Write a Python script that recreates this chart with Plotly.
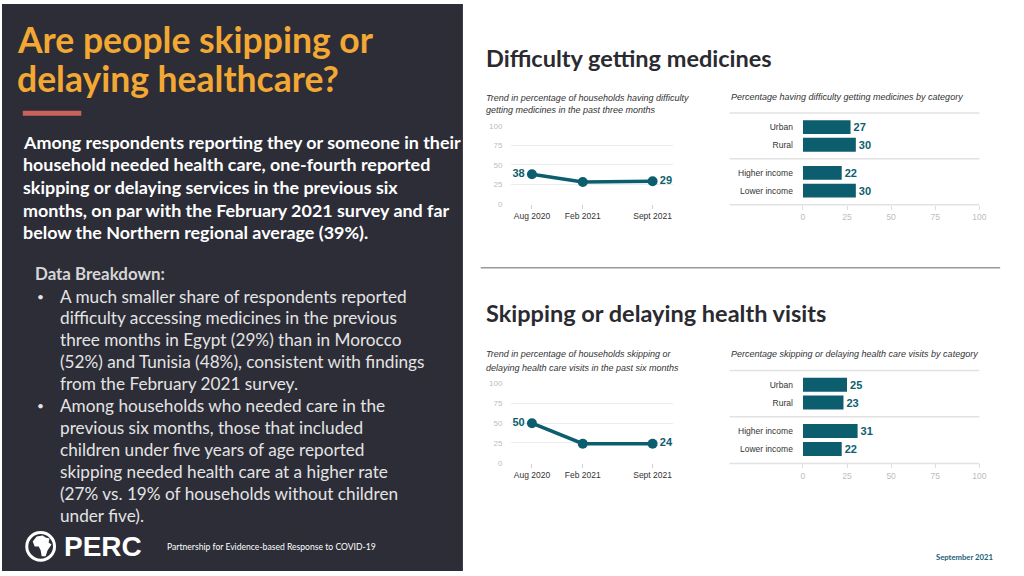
import plotly.graph_objects as go
import pandas as pd

# ---------------- data ----------------
periods = ["Aug 2020", "Feb 2021", "Sept 2021"]
period_dates = ["2020-08-20", "2021-02-05", "2021-09-25"]
med_trend = [38, 28, 29]
visit_trend = [50, 24, 24]

area_cats = ["Urban", "Rural"]
income_cats = ["Higher income", "Lower income"]
med_area = [27, 30]
med_income = [22, 30]
visit_area = [25, 23]
visit_income = [31, 22]

pct_ticks = [0, 25, 50, 75, 100]

# ---------------- styles ----------------
W, H = 1024, 576
TEAL = "#0c5e6e"
DARK = "#2c2d37"
ORANGE = "#f2a833"
SLIDE_FONT = "Lato"
CHART_FONT = "Liberation Sans"


def px(x, y):
    return x / W, 1 - y / H


def xd(a, b):
    return [a / W, b / W]


def yd(top, bottom):
    return [1 - bottom / H, 1 - top / H]


fig = go.Figure()

# ---------- line charts ----------
def add_line(vals, xa, ya):
    txt = [str(v) if i in (0, len(vals) - 1) else "" for i, v in enumerate(vals)]
    pos = ["middle left"] + ["middle center"] * (len(vals) - 2) + ["middle right"]
    fig.add_trace(go.Scatter(
        x=pd.to_datetime(period_dates), y=vals, mode="lines+markers+text",
        text=txt, textposition=pos,
        textfont=dict(family=CHART_FONT, size=11, color=TEAL, weight="bold"),
        line=dict(color=TEAL, width=3.5), marker=dict(size=10, color=TEAL),
        cliponaxis=False, xaxis=xa, yaxis=ya, showlegend=False, hoverinfo="skip"))


add_line(med_trend, "x", "y")
add_line(visit_trend, "x2", "y2")

# ---------- bar charts ----------
def add_bar(cats, vals, xa, ya):
    fig.add_trace(go.Bar(
        y=cats, x=vals, orientation="h", marker=dict(color=TEAL, line=dict(width=0)),
        text=[str(v) for v in vals], textposition="outside",
        textfont=dict(family=CHART_FONT, size=11, color=TEAL, weight="bold"),
        cliponaxis=False, xaxis=xa, yaxis=ya, showlegend=False, hoverinfo="skip"))


add_bar(area_cats, med_area, "x3", "y3")
add_bar(income_cats, med_income, "x4", "y4")
add_bar(area_cats, visit_area, "x5", "y5")
add_bar(income_cats, visit_income, "x6", "y6")

dates = pd.to_datetime(period_dates)
pad = pd.Timedelta(days=68)
xrange_dates = [dates.min() - pad, dates.max() + pad]

line_x = dict(type="date", range=xrange_dates, domain=xd(514, 677),
              tickmode="array", tickvals=dates, ticktext=periods,
              showgrid=False, zeroline=False, showline=False,
              ticks="outside", ticklen=4, tickcolor="#cfcfcf",
              tickfont=dict(family=CHART_FONT, size=8.5, color="#333333"))
line_y = dict(range=[0, 100], tickvals=pct_ticks, showgrid=True, gridcolor="#ececec",
              gridwidth=1.2, zeroline=False, showline=False, ticks="",
              ticklabelstandoff=8,
              tickfont=dict(family=CHART_FONT, size=8, color="#bdbdbd"))

bar_x_common = dict(range=[0, 100], domain=xd(808, 986), tickvals=pct_ticks,
                    showgrid=False, zeroline=False)
bar_x_axis = dict(bar_x_common, showline=False, ticks="outside", ticklen=4,
                  tickcolor="#dddddd",
                  tickfont=dict(family=CHART_FONT, size=8.5, color="#bdbdbd"))
bar_x_hidden = dict(bar_x_common, showticklabels=False, ticks="")
bar_y = dict(type="category", range=[1.795, -0.795], showgrid=False, zeroline=False,
             ticks="", ticklabelstandoff=9,
             tickfont=dict(family=CHART_FONT, size=8.5, color="#333333"))

fig.update_layout(
    width=W, height=H, margin=dict(l=0, r=0, t=0, b=0), autosize=False,
    paper_bgcolor="white", plot_bgcolor="rgba(0,0,0,0)", bargap=0.22,
    xaxis=dict(line_x, anchor="y"),
    yaxis=dict(line_y, domain=yd(124, 203), anchor="x"),
    xaxis2=dict(line_x, anchor="y2"),
    yaxis2=dict(line_y, domain=yd(385.7, 466), anchor="x2"),
    xaxis3=dict(bar_x_hidden, anchor="y3"),
    yaxis3=dict(bar_y, domain=yd(110.7, 157.3), anchor="x3"),
    xaxis4=dict(bar_x_axis, anchor="y4"),
    yaxis4=dict(bar_y, domain=yd(157.3, 204), anchor="x4"),
    xaxis5=dict(bar_x_hidden, anchor="y5"),
    yaxis5=dict(bar_y, domain=yd(372.3, 419.3), anchor="x5"),
    xaxis6=dict(bar_x_axis, anchor="y6"),
    yaxis6=dict(bar_y, domain=yd(419.3, 466.7), anchor="x6"),
)

shapes = []
# left dark panel
shapes.append(dict(type="rect", xref="paper", yref="paper", x0=0, x1=465 / W, y0=0, y1=1,
                   fillcolor=DARK, line=dict(width=0), layer="below"))
# title underline
x0, y0 = px(21, 108.5)
x1, y1 = px(80, 113.5)
shapes.append(dict(type="rect", xref="paper", yref="paper", x0=x0, x1=x1, y0=y1, y1=y0,
                   fillcolor="#c8625a", line=dict(width=0)))
# divider on right
shapes.append(dict(type="line", xref="paper", yref="paper", x0=483 / W, x1=1007 / W,
                   y0=1 - 268 / H, y1=1 - 268 / H, line=dict(color="#9a9a9a", width=1.5)))
# bar chart separator lines
for y in [110.7, 157.3, 204, 372.3, 419.3, 466.7]:
    shapes.append(dict(type="line", xref="paper", yref="paper", x0=734 / W, x1=986 / W,
                       y0=1 - y / H, y1=1 - y / H, line=dict(color="#e2e2e2", width=1.5),
                       layer="below"))
# PERC logo circle
cx0, cy0 = px(25, 537)
cx1, cy1 = px(53, 565)
shapes.append(dict(type="circle", xref="paper", yref="paper", x0=cx0, x1=cx1, y0=cy1, y1=cy0,
                   fillcolor=DARK, line=dict(color="white", width=3)))
# rough Africa silhouette inside the logo
africa = [(31, 546), (35, 541), (41, 540), (44, 542), (48, 543), (47, 547), (50, 549),
          (46, 555), (44, 561), (40, 561), (39, 555), (37, 551), (33, 551)]
path = "M " + " L ".join(f"{x / W:.5f},{1 - y / H:.5f}" for x, y in africa) + " Z"
shapes.append(dict(type="path", xref="paper", yref="paper", path=path,
                   fillcolor="white", line=dict(width=0)))
fig.update_layout(shapes=shapes)

ann = []


def text(x, y, s, size, color, family=SLIDE_FONT, bold=False, italic=False, anchor="left"):
    ax, ay = px(x, y)
    ann.append(dict(x=ax, y=ay, xref="paper", yref="paper", text=s, showarrow=False,
                    xanchor=anchor, yanchor="middle",
                    font=dict(family=family, size=size, color=color,
                              weight="bold" if bold else "normal",
                              style="italic" if italic else "normal")))


# title
text(13, 36, "Are people skipping or", 35.5, ORANGE, bold=True)
text(13, 76, "delaying healthcare?", 35.5, ORANGE, bold=True)

para = ["Among respondents reporting they or someone in their",
        "household needed health care, one-fourth reported",
        "skipping or delaying services in the previous six",
        "months, on par with the February 2021 survey and far",
        "below the Northern regional average (39%)."]
for i, s in enumerate(para):
    text(19, 140 + i * 23, s, 17.9, "white", bold=True)

text(31, 274, "Data Breakdown:", 16.9, "#d6d6d6", bold=True)
bul1 = ["A much smaller share of respondents reported",
        "difficulty accessing medicines in the previous",
        "three months in Egypt (29%) than in Morocco",
        "(52%) and Tunisia (48%), consistent with findings",
        "from the February 2021 survey."]
bul2 = ["Among households who needed care in the",
        "previous six months, those that included",
        "children under five years of age reported",
        "skipping needed health care at a higher rate",
        "(27% vs. 19% of households without children",
        "under five)."]
ys1 = [296.7, 318.7, 341, 363.2, 385.5]
ys2 = [408, 430.5, 453, 475.3, 497.7, 520]
text(33, ys1[0], "•", 12, "#e4e4e4")
text(33, ys2[0], "•", 12, "#e4e4e4")
for y, s in zip(ys1, bul1):
    text(56, y, s, 17.2, "#e4e4e4")
for y, s in zip(ys2, bul2):
    text(56, y, s, 17.2, "#e4e4e4")

# footer
text(61, 551, "PERC", 28, "white", family="Liberation Sans", bold=True)
text(164, 552, "Partnership for Evidence-based Response to COVID-19", 8.6, "white")
text(1002, 562, "September 2021", 7.7, "#1a6178", bold=True, anchor="right")

# right side headings
text(486, 55, "Difficulty getting medicines", 23.5, "#2a2a30", bold=True)
text(486, 314, "Skipping or delaying health visits", 23.5, "#2a2a30", bold=True)

# chart titles
CT = dict(size=9, color="#333333", family=CHART_FONT, italic=True)
text(486, 95, "Trend in percentage of households having difficulty", **CT)
text(486, 107.7, "getting medicines in the past three months", **CT)
text(733, 94.3, "Percentage having difficulty getting medicines by category", **CT)
text(486, 355.7, "Trend in percentage of households skipping or", **CT)
text(486, 369.3, "delaying health care visits in the past six months", **CT)
text(733, 355.7, "Percentage skipping or delaying health care visits by category", **CT)

fig.update_layout(annotations=ann)
fig.write_html(
    "out.html",
    config={"displayModeBar": False, "responsive": False},
    post_script=("document.documentElement.style.margin='0';"
                 "document.documentElement.style.overflow='hidden';"
                 "document.body.style.margin='0';"
                 "document.body.style.overflow='hidden';"
                 "var gd=document.getElementById('{plot_id}');"
                 "gd.style.position='fixed';gd.style.left='0px';gd.style.top='0px';"),
)
